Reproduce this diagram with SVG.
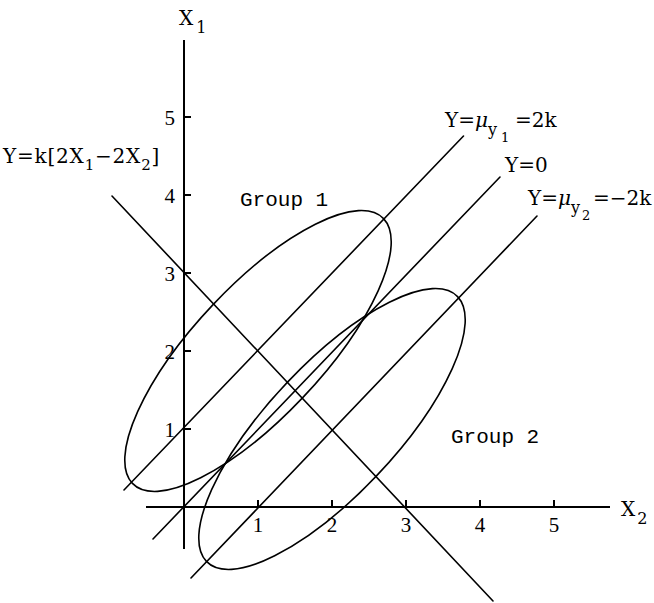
<svg xmlns="http://www.w3.org/2000/svg" width="654" height="603" viewBox="0 0 654 603">
  <style>
    .ln { fill: none; stroke: #000; stroke-width: 1.6; stroke-linecap: round; }
    .ax { fill: none; stroke: #000; stroke-width: 2; }
    .el { fill: none; stroke: #000; stroke-width: 1.6; vector-effect: non-scaling-stroke; }
    .tick { font-family: "Liberation Serif", serif; font-size: 21px; fill: #000; }
    .lab { font-family: "DejaVu Serif", "Liberation Serif", serif; font-size: 20px; fill: #000; }
    .grp { font-family: "Liberation Mono", monospace; font-size: 21px; fill: #000; }
  </style>
  <rect width="654" height="603" fill="#fff"/>

  <g id="axes">
    <line class="ax" x1="184" y1="40" x2="184" y2="549"/>
    <line class="ax" x1="146" y1="507" x2="610" y2="507"/>
    <g id="ticks-x1">
      <line class="ax" x1="184" y1="117" x2="191" y2="117"/>
      <line class="ax" x1="184" y1="195" x2="191" y2="195"/>
      <line class="ax" x1="184" y1="273" x2="191" y2="273"/>
      <line class="ax" x1="184" y1="351" x2="191" y2="351"/>
      <line class="ax" x1="184" y1="429" x2="191" y2="429"/>
    </g>
    <g id="ticks-x2">
      <line class="ax" x1="258" y1="507" x2="258" y2="500"/>
      <line class="ax" x1="332" y1="507" x2="332" y2="500"/>
      <line class="ax" x1="406" y1="507" x2="406" y2="500"/>
      <line class="ax" x1="480" y1="507" x2="480" y2="500"/>
      <line class="ax" x1="554" y1="507" x2="554" y2="500"/>
    </g>
    <g id="tick-labels-x1" class="tick" text-anchor="end">
      <text x="175" y="125">5</text>
      <text x="175" y="203">4</text>
      <text x="175" y="281">3</text>
      <text x="175" y="359">2</text>
      <text x="175" y="437">1</text>
    </g>
    <g id="tick-labels-x2" class="tick" text-anchor="middle">
      <text x="258" y="532">1</text>
      <text x="332" y="532">2</text>
      <text x="406" y="532">3</text>
      <text x="480" y="532">4</text>
      <text x="554" y="532">5</text>
    </g>
    <text id="label-x1" class="lab" font-size="21" x="179" y="25">X<tspan dx="3" y="33" font-size="16">1</tspan></text>
    <text id="label-x2" class="lab" font-size="21" x="621" y="516">X<tspan dx="2" y="524" font-size="16">2</tspan></text>
  </g>

  <g id="ellipses" transform="matrix(74 0 0 -78 184 507)">
    <ellipse id="group1-ellipse" class="el" cx="1" cy="2" rx="2.4" ry="0.85" transform="rotate(45 1 2)"/>
    <ellipse id="group2-ellipse" class="el" cx="2" cy="1" rx="2.4" ry="0.85" transform="rotate(45 2 1)"/>
  </g>

  <g id="lines">
    <line id="discriminant" class="ln" x1="112" y1="196" x2="493" y2="601"/>
    <line id="y-mu1" class="ln" x1="124" y1="490" x2="463.5" y2="136"/>
    <line id="y-zero" class="ln" x1="153" y1="539" x2="500" y2="177"/>
    <line id="y-mu2" class="ln" x1="191" y1="578" x2="537" y2="216"/>
  </g>

  <g id="labels">
    <text id="label-discriminant" class="lab" x="3" y="163" letter-spacing="0.8">Y=k[2X<tspan dy="7" font-size="15">1</tspan><tspan dy="-7">−2X</tspan><tspan dy="7" font-size="15">2</tspan><tspan dy="-7">]</tspan></text>
    <text id="label-mu1" class="lab" y="127"><tspan x="445">Y=</tspan><tspan font-style="italic">μ</tspan><tspan x="488" y="135" font-size="16">y</tspan><tspan x="501" y="142" font-size="13">1</tspan><tspan x="515" y="127">=2k</tspan></text>
    <text id="label-zero" class="lab" x="505" y="172">Y=0</text>
    <text id="label-mu2" class="lab" y="205"><tspan x="528">Y=</tspan><tspan font-style="italic">μ</tspan><tspan x="571" y="213" font-size="16">y</tspan><tspan x="582" y="220" font-size="13">2</tspan><tspan x="593" y="205">=−2k</tspan></text>
    <text id="label-group1" class="grp" x="240" y="206">Group 1</text>
    <text id="label-group2" class="grp" x="451" y="443">Group 2</text>
  </g>
</svg>
